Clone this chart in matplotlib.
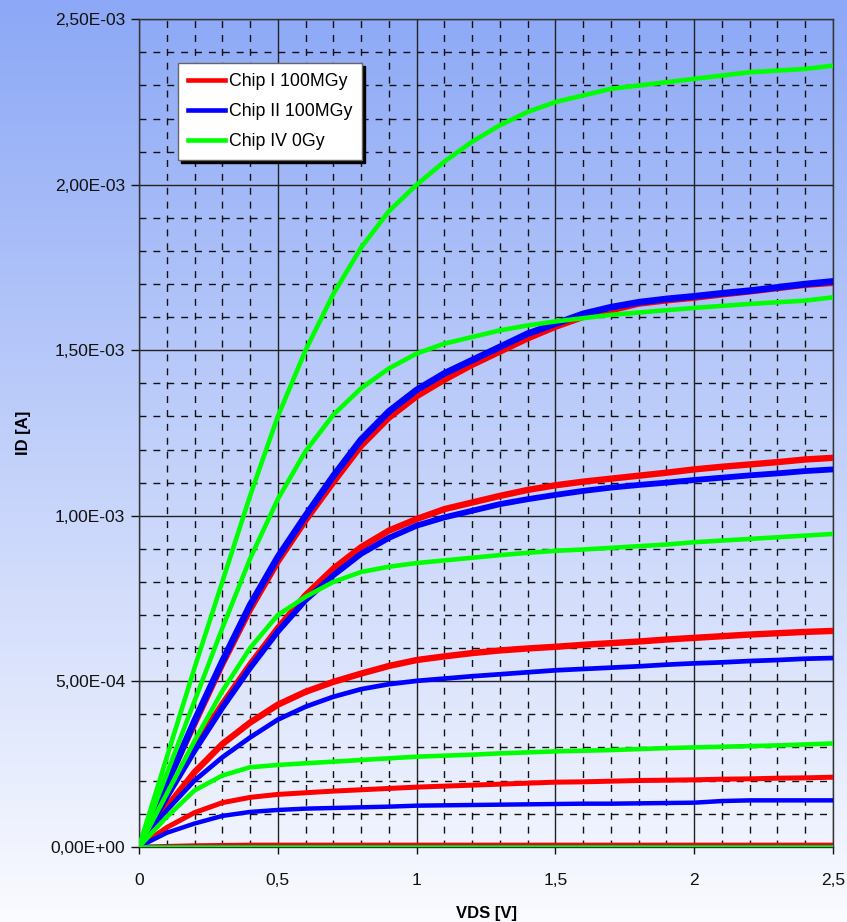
import numpy as np
import matplotlib
matplotlib.use("Agg")
import matplotlib.pyplot as plt
from matplotlib.ticker import MultipleLocator, FuncFormatter
from matplotlib.lines import Line2D

plt.rcParams['font.family'] = ['Liberation Sans', 'DejaVu Sans']

# ---------------- data (ID in mA -> converted to A) ----------------
vds = [0.0, 0.1, 0.2, 0.3, 0.4, 0.5, 0.6, 0.7, 0.8, 0.9, 1.0, 1.1, 1.2, 1.3,
       1.4, 1.5, 1.6, 1.7, 1.8, 1.9, 2.0, 2.1, 2.2, 2.3, 2.4, 2.5]

# Chip I 100MGy (red)
chip1_a = [0, 0.19, 0.37, 0.55, 0.715, 0.86, 0.985, 1.10, 1.21, 1.295, 1.36, 1.41, 1.455,
           1.495, 1.535, 1.57, 1.60, 1.62, 1.64, 1.65, 1.658, 1.668, 1.677, 1.687, 1.697, 1.703]
chip1_b = [0, 0.155, 0.30, 0.43, 0.55, 0.66, 0.76, 0.84, 0.905, 0.955, 0.99, 1.02, 1.04,
           1.06, 1.078, 1.092, 1.103, 1.112, 1.121, 1.13, 1.14, 1.148, 1.155, 1.162, 1.17, 1.175]
chip1_c = [0, 0.12, 0.225, 0.31, 0.375, 0.429, 0.468, 0.498, 0.523, 0.546, 0.564, 0.575, 0.585,
           0.593, 0.599, 0.604, 0.61, 0.615, 0.62, 0.626, 0.631, 0.636, 0.641, 0.645, 0.649, 0.652]
chip1_d = [0, 0.058, 0.103, 0.133, 0.149, 0.158, 0.163, 0.168, 0.172, 0.176, 0.180, 0.183, 0.186,
           0.189, 0.192, 0.195, 0.196, 0.198, 0.2, 0.201, 0.202, 0.204, 0.205, 0.207, 0.208, 0.21]
chip1_e = [0, 0.002, 0.004, 0.005, 0.006, 0.006, 0.006, 0.006, 0.006, 0.006, 0.006, 0.006, 0.006,
           0.006, 0.006, 0.006, 0.006, 0.006, 0.006, 0.006, 0.006, 0.006, 0.006, 0.006, 0.006, 0.006]

# Chip II 100MGy (blue)
chip2_a = [0, 0.19, 0.38, 0.56, 0.73, 0.875, 1.00, 1.12, 1.23, 1.315, 1.38, 1.43, 1.47,
           1.51, 1.55, 1.58, 1.61, 1.63, 1.645, 1.655, 1.663, 1.672, 1.68, 1.69, 1.70, 1.708]
chip2_b = [0, 0.15, 0.29, 0.42, 0.54, 0.65, 0.745, 0.82, 0.885, 0.933, 0.97, 0.995, 1.015,
           1.035, 1.05, 1.063, 1.075, 1.085, 1.093, 1.10, 1.108, 1.115, 1.122, 1.128, 1.135, 1.14]
chip2_c = [0, 0.11, 0.20, 0.27, 0.33, 0.384, 0.423, 0.453, 0.476, 0.491, 0.501, 0.508, 0.515,
           0.521, 0.527, 0.533, 0.537, 0.541, 0.545, 0.55, 0.554, 0.557, 0.561, 0.564, 0.568, 0.570]
chip2_d = [0, 0.042, 0.070, 0.093, 0.105, 0.111, 0.115, 0.117, 0.119, 0.121, 0.124, 0.125, 0.126,
           0.127, 0.128, 0.129, 0.130, 0.130, 0.131, 0.132, 0.133, 0.138, 0.140, 0.140, 0.140, 0.140]
chip2_e = [0] * 26

# Chip IV 0Gy (green)
chip4_a = [0, 0.27, 0.54, 0.80, 1.06, 1.30, 1.50, 1.67, 1.81, 1.92, 2.00, 2.07, 2.13,
           2.18, 2.22, 2.25, 2.27, 2.29, 2.30, 2.31, 2.32, 2.33, 2.34, 2.345, 2.35, 2.36]
chip4_b = [0, 0.22, 0.44, 0.66, 0.87, 1.05, 1.195, 1.305, 1.385, 1.445, 1.49, 1.52, 1.54,
           1.56, 1.575, 1.587, 1.597, 1.607, 1.614, 1.621, 1.628, 1.634, 1.64, 1.645, 1.65, 1.66]
chip4_c = [0, 0.16, 0.32, 0.47, 0.60, 0.70, 0.755, 0.80, 0.83, 0.846, 0.857, 0.865, 0.873,
           0.881, 0.888, 0.894, 0.898, 0.903, 0.908, 0.913, 0.92, 0.925, 0.93, 0.935, 0.94, 0.945]
chip4_d = [0, 0.09, 0.17, 0.215, 0.240, 0.247, 0.252, 0.257, 0.262, 0.267, 0.272, 0.275, 0.278,
           0.282, 0.285, 0.288, 0.29, 0.292, 0.295, 0.298, 0.300, 0.302, 0.304, 0.306, 0.309, 0.312]
chip4_e = [0] * 26

series_names = ["Chip I 100MGy", "Chip II 100MGy", "Chip IV 0Gy"]
colors = ["#ff0000", "#0000ff", "#00ff00"]
chip_curves = [
    [chip1_a, chip1_b, chip1_c, chip1_d, chip1_e],
    [chip2_a, chip2_b, chip2_c, chip2_d, chip2_e],
    [chip4_a, chip4_b, chip4_c, chip4_d, chip4_e],
]
widths = [
    [4.2, 4.6, 4.6, 3.6, 3.0],
    [4.8, 4.2, 3.4, 3.2, 3.0],
    [3.3, 3.3, 3.3, 3.3, 3.3],
]

# ---------------- figure ----------------
fig = plt.figure(figsize=(8.47, 9.22), dpi=100)

# gradient background
bg = fig.add_axes([0, 0, 1, 1], zorder=-10)
top = np.array([0x8c, 0xa8, 0xf6]) / 255.0
bot = np.array([0xfa, 0xfb, 0xff]) / 255.0
t = np.linspace(0, 1, 256)[:, None]
grad = top[None, :] * (1 - t) + bot[None, :] * t
bg.imshow(grad[:, None, :], aspect='auto', extent=[0, 1, 0, 1])
bg.set_axis_off()

ax = fig.add_axes([139 / 847, (922 - 846.7) / 922, (833 - 139) / 847, (846.7 - 19.3) / 922])
ax.set_facecolor('none')

for ci in range(3):
    for k, cur in enumerate(chip_curves[ci]):
        ax.plot(vds, np.array(cur) * 1e-3, color=colors[ci], lw=widths[ci][k],
                solid_capstyle='round', solid_joinstyle='round', zorder=3 + ci)

ax.set_xlim(0, 2.5)
ax.set_ylim(0, 2.5e-3)
ax.xaxis.set_major_locator(MultipleLocator(0.5))
ax.xaxis.set_minor_locator(MultipleLocator(0.1))
ax.yaxis.set_major_locator(MultipleLocator(5e-4))
ax.yaxis.set_minor_locator(MultipleLocator(1e-4))

ax.grid(which='major', color='#222222', lw=1.0, ls='-', zorder=1)
ax.grid(which='minor', color='#111111', lw=1.0, ls=(0, (5, 5)), zorder=1)
ax.set_axisbelow(True)

ax.yaxis.set_major_formatter(FuncFormatter(lambda v, p: f"{v:.2E}".replace('.', ',')))
ax.xaxis.set_major_formatter(FuncFormatter(lambda v, p: f"{v:g}".replace('.', ',')))

ax.tick_params(axis='y', which='major', length=6, width=1, direction='out', pad=4,
               labelsize=12.5, colors='#111111')
ax.tick_params(axis='y', which='minor', length=0)
ax.tick_params(axis='x', which='major', length=5, width=1, direction='out', pad=14,
               labelsize=12.5, colors='#111111')
ax.tick_params(axis='x', which='minor', length=0)

for s in ax.spines.values():
    s.set_color('#333333')
    s.set_linewidth(1.0)

ax.set_ylabel("ID [A]", fontsize=12, fontweight='bold')
ax.set_xlabel("VDS [V]", fontsize=12, fontweight='bold', labelpad=13)
ax.yaxis.set_label_coords(-0.155, 0.5)

handles = [Line2D([0], [0], color=c, lw=3.3) for c in colors]
leg = ax.legend(handles, series_names, loc='upper left',
                bbox_to_anchor=((178 - 139) / 694, (846.7 - 63) / 827.4),
                frameon=True, fancybox=False, shadow={'color': 'black', 'alpha': 1.0},
                fontsize=12.8, handlelength=2.1, handletextpad=0.2, labelspacing=0.75,
                borderpad=0.55, borderaxespad=0)
leg.get_frame().set_edgecolor('#666666')
leg.get_frame().set_linewidth(1.0)
leg.get_frame().set_facecolor('white')
leg.set_zorder(10)

fig.savefig("out.png", dpi=100)
